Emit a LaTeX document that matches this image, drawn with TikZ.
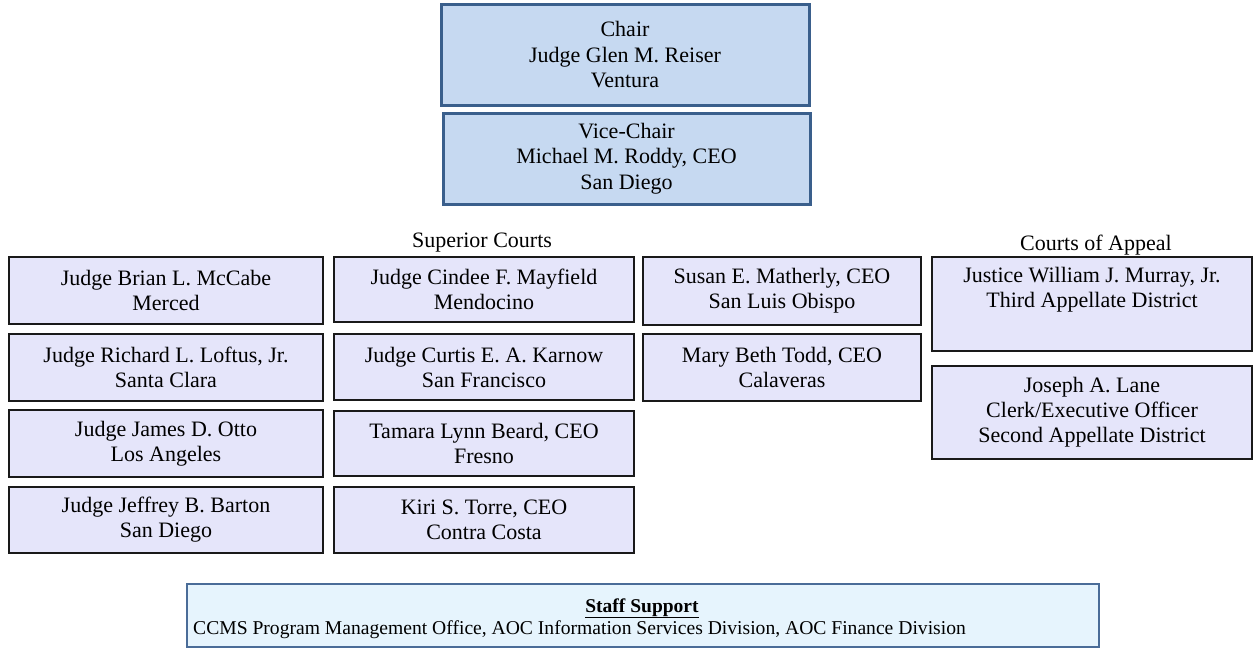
\documentclass[tikz,border=0pt]{standalone}
\usepackage{fontspec}
\setmainfont{Liberation Serif}
\definecolor{headfill}{HTML}{C6D9F1}
\definecolor{headline}{HTML}{3A5F8C}
\definecolor{memberfill}{HTML}{E5E5FA}
\definecolor{stafffill}{HTML}{E6F4FD}
\definecolor{staffline}{HTML}{4A6C98}
\tikzset{
  headbox/.style={draw=headline, fill=headfill, line width=3pt, inner sep=0pt,
    align=center, font=\fontsize{22}{25.5}\selectfont},
  memberbox/.style={draw=black!90, fill=memberfill, line width=2.6pt, inner sep=0pt,
    align=center, font=\fontsize{22}{25}\selectfont},
  grouplabel/.style={inner sep=0pt, font=\fontsize{22}{25}\selectfont},
  staffbox/.style={draw=staffline, fill=stafffill, line width=2.4pt, inner sep=0pt},
}
\begin{document}
\begin{tikzpicture}[x=1pt,y=-1pt]
\useasboundingbox (0,0) rectangle (1253,648);

% leadership
\node[headbox, minimum width=368pt, minimum height=101pt] (chair) at (625,55)
  {Chair\\Judge Glen M. Reiser\\Ventura};
\node[headbox, minimum width=367pt, minimum height=91pt] (vice) at (626.5,158.5)
  {Vice-Chair\\Michael M. Roddy, CEO\\San Diego};

% group headings
\node[grouplabel] (superior) at (482,243) {Superior Courts};
\node[grouplabel] (appeal) at (1096,245) {Courts of Appeal};

% superior courts, first column
\node[memberbox, minimum width=314pt, minimum height=67pt] (a1) at (166,290.5)
  {Judge Brian L. McCabe\\Merced};
\node[memberbox, minimum width=314pt, minimum height=67pt] (a2) at (166,367.5)
  {Judge Richard L. Loftus, Jr.\\Santa Clara};
\node[memberbox, minimum width=314pt, minimum height=67pt] (a3) at (166,443.5)
  {Judge James D. Otto\\Los Angeles};
\node[memberbox, minimum width=314pt, minimum height=66pt] (a4) at (166,520)
  {Judge Jeffrey B. Barton\\San Diego};

% superior courts, second column
\node[memberbox, minimum width=300pt, minimum height=65pt] (b1) at (484,289.5)
  {Judge Cindee F. Mayfield\\Mendocino};
\node[memberbox, minimum width=300pt, minimum height=66pt] (b2) at (484,367)
  {Judge Curtis E. A. Karnow\\San Francisco};
\node[memberbox, minimum width=300pt, minimum height=65pt] (b3) at (484,443.5)
  {Tamara Lynn Beard, CEO\\Fresno};
\node[memberbox, minimum width=300pt, minimum height=66pt] (b4) at (484,520)
  {Kiri S. Torre, CEO\\Contra Costa};

% superior courts, third column
\node[memberbox, minimum width=278pt, minimum height=68pt] (c1) at (782,291)
  {Susan E. Matherly, CEO\\San Luis Obispo};
\node[memberbox, minimum width=278pt, minimum height=67pt] (c2) at (782,367.5)
  {Mary Beth Todd, CEO\\Calaveras};

% courts of appeal
\node[memberbox, minimum width=320pt, minimum height=94pt] (d1) at (1092,304) {};
\node[inner sep=0pt, align=center, font=\fontsize{22}{25}\selectfont, anchor=north]
  (d1text) at ([yshift=-11pt]d1.north)
  {Justice William J. Murray, Jr.\\Third Appellate District};
\node[memberbox, minimum width=320pt, minimum height=93pt] (d2) at (1092,412.5)
  {Joseph A. Lane\\Clerk/Executive Officer\\Second Appellate District};

% staff support
\node[staffbox, minimum width=912pt, minimum height=63pt] (staff) at (643,615.5) {};
\node[inner sep=0pt, font=\fontsize{19.5}{22}\selectfont\bfseries, anchor=base]
  (stafftitle) at (642,612) {\underline{Staff Support}};
\node[inner sep=0pt, font=\fontsize{19.6}{22}\selectfont, anchor=base west]
  (stafftext) at (193,634)
  {CCMS Program Management Office, AOC Information Services Division, AOC Finance Division};
\end{tikzpicture}
\end{document}
